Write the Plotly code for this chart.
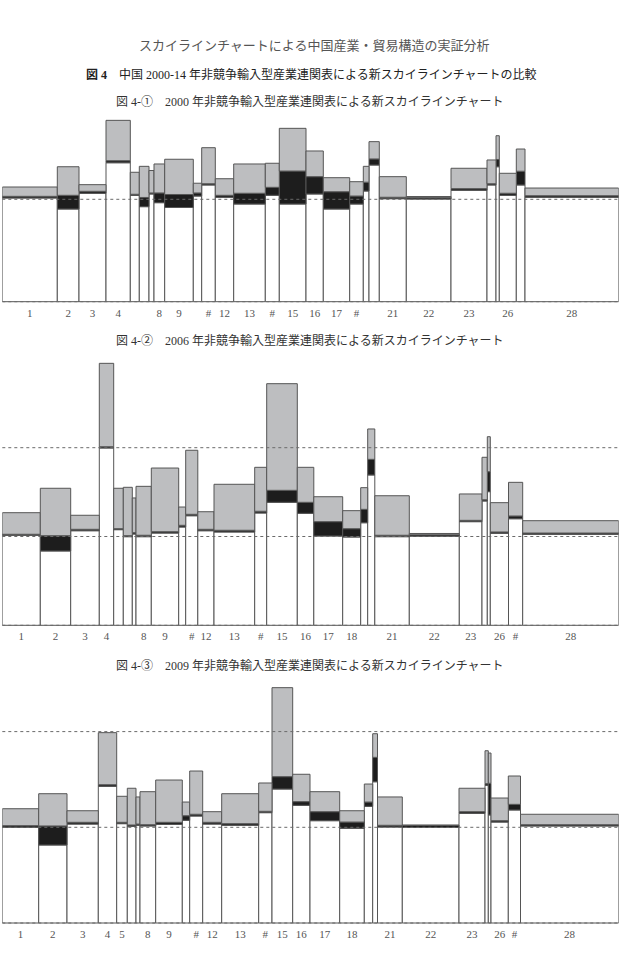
import numpy as np
import plotly.graph_objects as go

# ---------------- data ----------------
sectors = list(range(1, 29))

# widths = share of each sector (relative units)
w2000 = [55, 21.7, 27, 24.3, 9, 9.7, 5, 10.7, 28.6, 8.4, 13.6, 18.4, 31.6, 14,
         26.7, 17.3, 26.4, 13.6, 5.7, 10.3, 27, 44.7, 36, 9, 3.3, 17, 8.7, 93.7]
# top of white (domestic), top of black (import), top of gray (export), in %
dom2000 = [101.3, 90.5, 105.9, 135.7, 103.7, 92.8, 105.2, 96.7, 92.0, 103.2, 114.0, 102.0, 95.4, 103.9,
           95.4, 105.2, 90.5, 95.4, 108.1, 133.5, 100.6, 100.3, 108.8, 114.0, 131.8, 103.9, 114.0, 102.0]
imp2000 = [102.9, 103.9, 107.8, 137.7, 104.9, 101.8, 106.2, 106.2, 104.7, 106.2, 115.2, 103.9, 105.9, 111.7,
           127.6, 122.1, 107.4, 103.2, 116.7, 139.4, 102.0, 101.6, 110.4, 115.2, 138.9, 105.9, 127.4, 103.5]
exp2000 = [112.0, 131.8, 114.3, 177.1, 126.4, 132.2, 128.1, 134.5, 139.1, 115.7, 150.4, 120.1, 134.5, 135.2,
           169.3, 147.2, 121.1, 117.2, 132.2, 156.3, 122.1, 102.7, 130.3, 138.4, 162.1, 125.4, 149.1, 111.0]
lab2000 = ['1', '2', '3', '4', '', '', '', '8', '9', '', '#', '12', '13', '#', '15', '16', '17', '#',
           '', '', '21', '22', '23', '', '', '26', '', '28']

w2006 = [38, 30.4, 28.6, 14.4, 9.6, 9, 3.7, 15.3, 27.4, 7, 12.1, 16.2, 40.7, 12,
         30.6, 16.5, 28.9, 18, 7, 7.1, 34.5, 50, 22.7, 5.3, 3, 18.2, 14.2, 96]
dom2006 = [101.4, 83.7, 106.5, 199.7, 107.7, 99.8, 102.8, 99.8, 103.9, 110.7, 123.4, 106.5, 105.1, 126.5,
           138.5, 126.1, 100.6, 99.4, 115.5, 169.3, 99.8, 100.2, 116.7, 140.0, 150.5, 103.6, 120.0, 102.5]
imp2006 = [102.5, 100.9, 108.1, 201.1, 108.8, 100.9, 104.3, 101.4, 105.4, 112.6, 125.0, 108.1, 107.0, 128.4,
           152.0, 138.5, 116.7, 108.8, 130.6, 186.9, 101.4, 101.9, 118.2, 141.4, 173.0, 105.1, 123.1, 103.9]
exp2006 = [126.8, 154.3, 123.9, 295.0, 154.3, 155.4, 143.4, 156.5, 177.1, 133.2, 197.1, 127.9, 158.8, 177.9,
           272.1, 177.9, 144.8, 129.1, 155.0, 221.1, 145.9, 103.4, 147.9, 189.2, 212.4, 138.1, 161.0, 117.8]
lab2006 = ['1', '2', '3', '4', '', '', '', '8', '9', '', '#', '12', '13', '#', '15', '16', '17', '18',
           '', '', '21', '22', '23', '', '', '26', '#', '28']

w2009 = [36.4, 28.3, 31.3, 18.4, 10.6, 8.7, 4, 15.7, 26.6, 7.4, 13, 19, 37, 13.3,
         20.7, 17.3, 29.7, 24.6, 8.4, 4.8, 24.8, 56.7, 26, 3.3, 2.7, 17.3, 12.2, 98.2]
dom2009 = [100.0, 81.5, 103.4, 142.8, 103.8, 101.0, 102.1, 101.4, 103.1, 107.3, 111.8, 103.4, 102.1, 115.3,
           140.0, 123.0, 106.9, 99.0, 121.9, 147.6, 100.3, 99.8, 114.6, 143.9, 112.9, 105.5, 118.1, 101.4]
imp2009 = [101.7, 101.4, 105.2, 144.5, 105.2, 102.4, 103.4, 102.7, 105.2, 112.1, 113.6, 105.2, 103.8, 116.7,
           152.9, 126.8, 116.3, 105.5, 126.4, 173.1, 102.1, 101.9, 116.3, 145.6, 146.0, 106.9, 124.0, 102.7]
exp2009 = [119.4, 135.1, 117.3, 198.9, 132.4, 140.8, 131.7, 137.2, 149.4, 126.4, 158.8, 116.3, 135.1, 146.3,
           245.9, 155.4, 137.2, 117.3, 145.2, 197.8, 131.7, 102.4, 140.8, 180.0, 177.6, 130.6, 153.6, 113.6]
lab2009 = ['1', '2', '3', '4', '5', '', '', '8', '9', '', '#', '12', '13', '#', '15', '16', '17', '18',
           '', '', '21', '22', '23', '', '', '26', '#', '28']

ref_lines = [0, 100, 200]

# ---------------- layout constants ----------------
W, H = 627, 954
X0, X1 = 2.3, 618.7
PAD = 3  # px below the baseline so the dotted zero line stays visible
panels = [
    # (widths, dom, imp, exp, labels, bottom px, px per 100%, top px)
    (w2000, dom2000, imp2000, exp2000, lab2000, 301.7, 102.4, 115),
    (w2006, dom2006, imp2006, exp2006, lab2006, 625.3, 88.8, 355),
    (w2009, dom2009, imp2009, exp2009, lab2009, 923.0, 95.7, 682),
]

GRAY = '#bdbec0'
BLACK = '#1d1d1d'
EDGE = '#555555'
SERIF = 'Liberation Serif, Noto Sans CJK JP, serif'

fig = go.Figure()
layout_axes = {}
shapes = []
for i, (wd, dom, imp, exp, lab, ybot, s100, ytop) in enumerate(panels):
    k = '' if i == 0 else str(i + 1)
    wd = np.array(wd, dtype=float)
    dom = np.array(dom); imp = np.array(imp); exp = np.array(exp)
    edges = np.concatenate([[0], np.cumsum(wd)])
    centers = (edges[:-1] + edges[1:]) / 2
    total = edges[-1]
    common = dict(x=centers, width=wd, xaxis='x' + k, yaxis='y' + k, showlegend=False,
                  hoverinfo='skip')
    fig.add_trace(go.Bar(y=dom, base=np.zeros_like(dom),
                         marker=dict(color='white', line=dict(color=EDGE, width=1)), **common))
    fig.add_trace(go.Bar(y=imp - dom, base=dom,
                         marker=dict(color=BLACK, line=dict(color=EDGE, width=1)), **common))
    fig.add_trace(go.Bar(y=exp - imp, base=imp,
                         marker=dict(color=GRAY, line=dict(color=EDGE, width=1)), **common))

    ymax = (ybot - ytop) / s100 * 100
    ymin = -PAD / s100 * 100
    tv = [c for c, t in zip(centers, lab) if t]
    tt = [t for t in lab if t]
    layout_axes['xaxis' + k] = dict(domain=[X0 / W, X1 / W], range=[0, total], anchor='y' + k,
                                    showgrid=False, zeroline=False, showline=False,
                                    tickvals=tv, ticktext=tt, ticks='', ticklabelstandoff=0,
                                    tickfont=dict(family=SERIF, size=11, color='#555'))
    layout_axes['yaxis' + k] = dict(domain=[(H - ybot - PAD) / H, (H - ytop) / H],
                                    range=[ymin, ymax],
                                    anchor='x' + k, showgrid=False, zeroline=False,
                                    showline=False, showticklabels=False, ticks='')
    for r in ref_lines:
        if r <= ymax:
            shapes.append(dict(type='line', xref='x' + k + ' domain', yref='y' + k,
                               x0=0, x1=1, y0=r, y1=r, layer='above',
                               line=dict(color='#6a6a6a', width=1, dash='dot')))

titles = [
    ('スカイラインチャートによる中国産業・貿易構造の実証分析', 314, 46, 13, '#555'),
    ('<b>図 4</b>　中国 2000-14 年非競争輸入型産業連関表による新スカイラインチャートの比較', 311, 75, 12, '#222'),
    ('図 4-①　2000 年非競争輸入型産業連関表による新スカイラインチャート', 310, 102, 12, '#333'),
    ('図 4-②　2006 年非競争輸入型産業連関表による新スカイラインチャート', 310, 341, 12, '#333'),
    ('図 4-③　2009 年非競争輸入型産業連関表による新スカイラインチャート', 310, 666, 12, '#333'),
]
annotations = []
for txt, xp, yp, sz, col in titles:
    annotations.append(dict(text=txt, x=xp / W, y=1 - yp / H, xref='paper', yref='paper',
                            xanchor='center', yanchor='middle', showarrow=False,
                            font=dict(family=SERIF, size=sz, color=col)))

fig.update_layout(width=W, height=H, margin=dict(l=0, r=0, t=0, b=0),
                  paper_bgcolor='white', plot_bgcolor='white', barmode='overlay',
                  shapes=shapes, annotations=annotations, **layout_axes)
fig.write_html('out.html')
